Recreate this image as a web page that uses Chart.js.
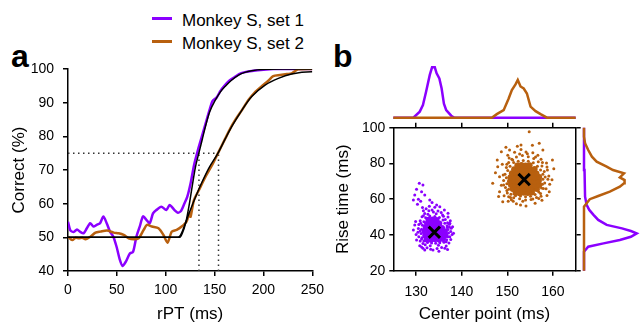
<!DOCTYPE html>
<html>
<head>
<meta charset="utf-8">
<script src="https://cdn.jsdelivr.net/npm/chart.js@4"></script>
<style>
  body { margin: 0; background: #fff; width: 642px; height: 324px; position: relative; overflow: hidden;
         font-family: 'Liberation Sans', Arial, sans-serif; color: #000; }
  .box { position: absolute; }
  .panel { position: absolute; font-weight: bold; font-size: 32px; line-height: 32px; }
  .key-line { position: absolute; left: 152px; width: 20px; height: 3px; }
  .key-text { position: absolute; left: 182px; font-size: 17px; line-height: 17px; white-space: nowrap; }
</style>
</head>
<body>
<div class="panel" style="left:11px; top:40px;">a</div>
<div class="panel" style="left:333px; top:40px;">b</div>
<div class="key-line" style="top:17px; background:#8b00ff;"></div>
<div class="key-text" style="top:12px;">Monkey S, set 1</div>
<div class="key-line" style="top:40px; background:#b8600f;"></div>
<div class="key-text" style="top:35px;">Monkey S, set 2</div>

<div class="box" style="left:0; top:0; width:330px; height:324px;"><canvas id="chartA"></canvas></div>
<div class="box" style="left:330px; top:60px; width:260px; height:70px;"><canvas id="chartTop"></canvas></div>
<div class="box" style="left:570px; top:100px; width:72px; height:224px;"><canvas id="chartRight"></canvas></div>
<div class="box" style="left:330px; top:100px; width:260px; height:224px;"><canvas id="chartB"></canvas></div>

<script>
const PURPLE = "#8b00ff";
const ORANGE = "#b8600f";

// panel a: running percent correct vs rPT
const rptSet1 = [0,2.4,5.8,9.2,12.5,15.9,19.3,22.7,26,29.4,32.8,36.2,39.6,43,46.4,49.7,53.1,55.8,59.2,63.3,66.6,70,73.4,76.8,80.2,83.6,87,90.4,95.5,100.6,104,109,112.4,115.8,119.2,122,125.4,129,133,137,141,145,148,152,156,160,165,170,175,180,190,200,210,250];
const correctSet1 = [54.6,52.1,51.6,52.3,51.6,51.2,52.7,54.2,53.2,53.7,54.2,56.2,54.2,51.7,50.2,47.2,43.3,41.5,42.8,45.2,45.7,50.2,53.2,56.2,55.2,54.2,57.1,58.1,59.1,58.1,59.6,58.1,57.3,57.9,60.1,62,66,71.5,76,80,84,88,90.5,91.5,93.5,95,96.5,97.5,98.5,99,99.5,99.8,100,100];
const rptSet2 = [0,4.4,7.8,11.2,14.6,18,23,28.1,33.2,40,46.8,51.9,57,62.1,67.2,72.3,77.4,80.8,85.9,92.6,97.7,101.8,106.2,111.2,116.3,121.4,124,125.4,128.8,133.9,140.7,147.5,153.5,161,166,171,178,184.6,191,198,205,210,217,224,229,235.5,250];
const correctSet2 = [50.2,49.2,49.9,49.7,49.9,49.4,50.2,51.4,51.7,52,51.4,51.2,50.7,49.7,49.4,49.7,52.2,53.7,53.2,52.7,50.7,48.4,51.7,52.2,53.2,54.7,57.2,56.1,61,64,68,71.5,75,79.4,82.3,84.8,87.8,90.8,93,94.8,96.5,97.9,98.2,98.5,98.7,99.9,100];
const fit1Rpt = [0,114.5,117,120.4,123.7,127,130.5,133.9,137.3,140.7,145,150.9,156,161,167,174.6,181,188,201.7,220,250];
const fit1 = [50,50,51.2,54.2,59.1,65,71,75,79,83,87.3,90.8,93.2,94.9,96.6,98.2,99,99.5,99.9,100,100];
const fit2Rpt = [0,112,115,118.6,123.7,130.5,137.3,144,153.5,161,167.8,178,188,201.7,215.2,228.8,249.1,250];
const fit2 = [50,50,50.6,53,57,62,66.5,70.5,75,79.3,83,87.8,91.8,95.2,97.2,98.5,99.2,99.2];
const thresholdPct = 75;
const thresholdRpt = [134, 154];
const rptTicks = [0, 50, 100, 150, 200, 250];
const correctTicks = [40, 50, 60, 70, 80, 90, 100];

// panel b: fitted center point / rise time per resample
const purpleCore = [
  [132.3,37.5],[133.2,37.3],[134.1,37.6],[135.0,37.4],[135.9,37.8],
  [132.0,39.7],[132.9,39.9],[133.8,39.6],[134.7,39.8],[135.6,39.5],[136.4,39.9],
  [131.9,41.9],[132.8,42.1],[133.7,41.8],[134.6,42.0],[135.5,41.7],[136.3,42.1],
  [132.1,44.1],[133.0,44.3],[133.9,44.0],[134.8,44.2],[135.7,43.9],
  [132.4,46.3],[133.3,46.5],[134.2,46.2],[135.1,46.4],
  [132.7,48.5],[133.6,48.7],[134.5,48.3]
];
const purpleDots = [
  [130.8,34],[131.2,33.2],[132.4,32.8],[133.2,32],[134.6,32.4],[135.6,33],[136.6,33.8],[137.2,35.5],[137.6,37.5],
  [137.9,40.2],[137.6,42],[137.3,44.5],[136.9,46.8],[136.4,48.6],[136,50.5],[135.5,52.5],[134.8,53.4],[133.8,52.8],
  [132.8,53.5],[131.9,52],[131.3,50.2],[130.9,48],[130.6,45.8],[130.5,43.6],[130.4,41.5],[130.6,39],[130.9,36.6],
  [131.5,35.2],[132.9,56],[134.1,55.5],[131.4,55.3],[130.3,57.2],[131,58.8],[133.5,58.2],[136.2,54],[137,50],
  [138.2,41],[129.9,47.5],[130,40.3],[136.9,31.8],[131.9,31.6],[135,30.9],[138,44.6],[137.5,48],
  [130.7,68.9],[131.5,67.9],[130.1,65.5],[131.2,64.2],[129.7,62.3],[131.9,62.3],[129.4,59.5],[130.5,60],[133,59.5],
  [134.5,56.8],[135.2,55.8],[137,52.1],[137.4,46.5],[137.7,43.7],[129.4,42.8],[129.7,45.6],[130.1,37.2],[131.5,32.5],
  [133.7,31.6],[136.3,32.5],[137.4,39],[131.6,50.8],[136.6,36.2],[131.2,37.8],[136.8,44.2],[132.2,54.6],
  [131.3,38.5],[131.1,40.8],[131.2,43.2],[131.4,45.4],[131.7,47.4],[132.1,49.6],[133,50.6],[134.1,50.3],[135.1,49.8],
  [135.9,48.4],[136.3,46.6],[136.8,45.1],[137,43],[137.1,41.1],[137,39],[136.7,37.3],[136.1,35.9],[135.2,35.6],
  [134.3,35.4],[133.4,35.5],[132.5,35.8],[131.7,36.6],[132.6,51.6],[134.4,51.8],[133.5,53.9],[131.6,53.6],[135.8,51.2],
  [130.9,42.2],[131.0,46.6],[137.3,46],[134.9,34.3],[133.1,33.9],[132,34.5]
];
const orangeCore = [
  [151.8,63.5],[152.7,63.3],[153.6,63.6],[154.5,63.4],[155.4,63.7],
  [151.2,65.7],[152.1,65.9],[153.0,65.6],[153.9,65.8],[154.8,65.5],[155.7,65.9],[156.5,65.7],
  [150.8,67.9],[151.7,68.1],[152.6,67.8],[153.5,68.0],[154.4,67.7],[155.3,68.1],[156.2,67.8],[157.0,68.0],
  [150.6,70.1],[151.5,70.3],[152.4,70.0],[153.3,70.2],[154.2,69.9],[155.1,70.3],[156.0,70.0],[156.9,70.2],
  [150.7,72.3],[151.6,72.5],[152.5,72.2],[153.4,72.4],[154.3,72.1],[155.2,72.5],[156.1,72.2],[157.0,72.4],
  [151.0,74.5],[151.9,74.7],[152.8,74.4],[153.7,74.6],[154.6,74.3],[155.5,74.7],[156.4,74.4],
  [151.5,76.7],[152.4,76.9],[153.3,76.6],[154.2,76.8],[155.1,76.5],[156.0,76.9],
  [152.2,78.9],[153.1,79.1],[154.0,78.8],[154.9,79.0]
];
const orangeDots = [
  [149.3,62],[149.6,66.5],[149.2,70.5],[149.5,74],[149.8,77.8],[150.3,80.5],[151,82.4],[152,83.6],[153.3,84.5],
  [154.6,83.8],[155.8,82.7],[156.8,81],[157.6,78.6],[158.1,75.5],[158.3,72.4],[158.2,69],[157.9,66],[157.3,63.2],
  [156.4,61],[155.2,59.8],[154,59.6],[152.7,60.2],[151.4,60.8],[150.3,61.4],[148.7,67.8],[148.3,72.6],[148.9,79.6],
  [150.1,84.6],[151.6,86.2],[153,87.8],[154.1,86.4],[155.6,86],[156.7,84.6],[158.6,80.2],[159.1,73],[159.3,68.4],
  [158.7,62.1],[157.6,59.4],[156.1,57.8],[152,57.5],[150.2,58.8],[147.4,74.8],[147.8,82],[149.7,89],[152.2,89.6],
  [155.5,90.2],[160.2,77],[157.2,70.4],[149.9,64.8],[148.1,61.5],[159.8,70.9],[152.9,56.8],
  [154.8,97.8],[153,90.3],[157,91.3],[148.7,86.6],[159.9,81.9],[146.8,68.9],[149,58.6],[154.1,56.2],[159.2,64.2],
  [157.8,87.5],[150.5,87.5],[158.8,76.3],[147.9,78.2],[148.3,64.2],[150.4,83],[157.4,82.3],[156.9,60.4],[150.9,59.7],
  [150,63.5],[149.9,68.6],[149.8,72],[150.1,76],[150.6,78.5],[151.4,80.6],[152.4,81.3],[153.5,81.6],[154.6,81.2],
  [155.7,80.4],[156.6,78.5],[157.3,76.4],[157.8,74],[157.8,71.2],[157.7,68.4],[157.5,66.2],[156.9,64],[156.1,62.6],
  [155.1,61.6],[154,61.4],[152.9,61.8],[151.8,62],[150.8,62.8],[150.3,65.6],[149.2,68],[149.1,73.5],[149.9,79.5],
  [151.2,82],[152.7,85.3],[154.4,85.4],[156.2,83.6],[157.7,80.6],[158.7,78],[158.9,71.2],[158.5,65.8],[157.4,61.7],
  [155.6,60.1],[153.4,58.8],[151.3,58.9],[150.7,61]
];
const clusterMeans = [[134, 41.5], [153.7, 71]];
const centerTicks = [130, 140, 150, 160];
const riseTicks = [20, 40, 60, 80, 100];

// marginal histograms (relative density)
const centerP = [125,129.4,130.8,131.5,132.2,133.0,133.5,134.1,134.5,135.1,135.6,136.1,136.6,137.7,138.4,165];
const centerDensP = [0,0,0.12,0.25,0.52,0.85,1.0,1.0,0.88,0.78,0.58,0.28,0.15,0.04,0,0];
const centerO = [125,146.6,147.7,149.2,150.3,151.0,151.8,152.3,152.9,153.6,154.3,155.1,156.2,157.3,158.7,165];
const centerDensO = [0,0,0.07,0.15,0.38,0.55,0.66,0.75,0.62,0.58,0.48,0.22,0.13,0.07,0,0];
const riseP = [20,30.6,33.4,35.3,37.2,39,40.9,42.2,43.7,45.6,48.4,51.2,54,56.8,61.4,76.3,93,100];
const riseDensP = [0,0,0.08,0.37,0.68,0.89,1.0,0.89,0.72,0.43,0.27,0.18,0.1,0.05,0.02,0.01,0,0];
const riseO = [20,55.8,57.7,60,61.8,64.2,67,68.9,70.7,72.2,74.5,76.3,78.2,81,83.8,87.5,91.3,95,100];
const riseDensO = [0,0,0.05,0.11,0.27,0.49,0.68,0.76,0.77,0.68,0.76,0.55,0.43,0.24,0.15,0.08,0.02,0,0];

Chart.defaults.font.family = "'Liberation Sans', Arial, sans-serif";
Chart.defaults.color = "#000";
Chart.defaults.animation = false;

const toXY = (xs, ys) => xs.map((x, i) => ({ x: x, y: ys[i] }));
const pairs = pts => pts.map(p => ({ x: p[0], y: p[1] }));
const fixTicks = vals => scale => { scale.ticks = vals.map(v => ({ value: v })); };

function axis(opts) {
  // common black axis with outward tick marks
  return Object.assign({
    type: "linear",
    grid: { drawOnChartArea: false, drawTicks: true, tickLength: 5, color: "#000", lineWidth: 1.5 },
    border: { color: "#000", width: 1.5 },
    ticks: { font: { size: 14 }, color: "#000" }
  }, opts);
}

const noPlugins = { legend: { display: false }, tooltip: { enabled: false } };

new Chart(document.getElementById("chartA"), {
  type: "line",
  data: {
    datasets: [
      { data: toXY(fit1Rpt, fit1), borderColor: "#000", borderWidth: 1.5, cubicInterpolationMode: "monotone", order: 0 },
      { data: toXY(fit2Rpt, fit2), borderColor: "#000", borderWidth: 1.5, cubicInterpolationMode: "monotone", order: 0 },
      { data: toXY(rptSet2, correctSet2), borderColor: ORANGE, borderWidth: 2.5, tension: 0.25, order: 1 },
      { data: toXY(rptSet1, correctSet1), borderColor: PURPLE, borderWidth: 2.5, tension: 0.25, order: 2 },
      { data: [{ x: 0, y: thresholdPct }, { x: thresholdRpt[1], y: thresholdPct }], borderColor: "#333", borderWidth: 1.5, borderDash: [1.5, 3.5], order: 3 },
      { data: [{ x: thresholdRpt[0], y: 40 }, { x: thresholdRpt[0], y: thresholdPct }], borderColor: "#333", borderWidth: 1.5, borderDash: [1.5, 3.5], order: 3 },
      { data: [{ x: thresholdRpt[1], y: 40 }, { x: thresholdRpt[1], y: thresholdPct }], borderColor: "#333", borderWidth: 1.5, borderDash: [1.5, 3.5], order: 3 }
    ]
  },
  options: {
    responsive: true, maintainAspectRatio: false,
    layout: { padding: { top: 69, right: 16 } },
    plugins: noPlugins,
    elements: { point: { radius: 0 } },
    scales: {
      x: axis({
        min: 0, max: 250, afterBuildTicks: fixTicks(rptTicks),
        ticks: { font: { size: 14 }, color: "#000", padding: 6, maxRotation: 0 },
        title: { display: true, text: "rPT (ms)", font: { size: 17, lineHeight: 1 }, padding: { top: 0, bottom: 1 } },
        afterFit: s => { s.height = 53; }
      }),
      y: axis({
        min: 40, max: 100, afterBuildTicks: fixTicks(correctTicks),
        ticks: { font: { size: 14 }, color: "#000", padding: 9 },
        title: { display: true, text: "Correct (%)", font: { size: 17, lineHeight: 1 }, padding: { top: 11, bottom: 0 } },
        afterFit: s => { s.width = 68; }
      })
    }
  }
});

new Chart(document.getElementById("chartB"), {
  type: "scatter",
  data: {
    datasets: [
      { data: pairs(clusterMeans), pointStyle: "crossRot", pointRadius: 8, borderColor: "#000", borderWidth: 3, order: 0 },
      { data: pairs(purpleCore), backgroundColor: PURPLE, pointRadius: 3, borderWidth: 0, order: 1 },
      { data: pairs(purpleDots), backgroundColor: PURPLE, pointRadius: 1.5, borderWidth: 0, order: 2 },
      { data: pairs(orangeCore), backgroundColor: ORANGE, pointRadius: 3, borderWidth: 0, order: 1 },
      { data: pairs(orangeDots), backgroundColor: ORANGE, pointRadius: 1.5, borderWidth: 0, order: 2 }
    ]
  },
  options: {
    responsive: true, maintainAspectRatio: false,
    layout: { padding: { top: 22.7, right: 9.3 } },
    plugins: noPlugins,
    scales: {
      x: axis({
        position: "bottom", min: 125, max: 165, afterBuildTicks: fixTicks(centerTicks),
        ticks: { font: { size: 14 }, color: "#000", padding: 8, maxRotation: 0 },
        title: { display: true, text: "Center point (ms)", font: { size: 17, lineHeight: 1 }, padding: { top: 0, bottom: 1 } },
        afterFit: s => { s.height = 53.3; }
      }),
      xTop: axis({
        axis: "x", position: "top", min: 125, max: 165, afterBuildTicks: fixTicks(centerTicks),
        ticks: { display: false },
        afterFit: s => { s.height = 5; }
      }),
      y: axis({
        position: "left", min: 20, max: 100, afterBuildTicks: fixTicks(riseTicks),
        grid: { drawOnChartArea: false, drawTicks: true, tickLength: 4, color: "#000", lineWidth: 1.5 },
        ticks: { font: { size: 14 }, color: "#000", padding: 4 },
        title: { display: true, text: "Rise time (ms)", font: { size: 17, lineHeight: 1 }, padding: { top: 4.5, bottom: 0 } },
        afterFit: s => { s.width = 63.3; }
      }),
      yRight: axis({
        axis: "y", position: "right", min: 20, max: 100, afterBuildTicks: fixTicks(riseTicks),
        ticks: { display: false },
        afterFit: s => { s.width = 5; }
      })
    }
  }
});

new Chart(document.getElementById("chartTop"), {
  type: "line",
  data: {
    datasets: [
      { data: toXY(centerO, centerDensO), borderColor: ORANGE, borderWidth: 2.5, clip: false, order: 0 },
      { data: toXY(centerP, centerDensP), borderColor: PURPLE, borderWidth: 2.5, clip: false, order: 1 }
    ]
  },
  options: {
    responsive: true, maintainAspectRatio: false,
    layout: { padding: { left: 63.3, right: 14.3, top: 7.3, bottom: 12.3 } },
    plugins: noPlugins,
    elements: { point: { radius: 0 } },
    scales: {
      x: { type: "linear", min: 125, max: 165, display: false },
      y: { type: "linear", min: 0, max: 1, display: false }
    }
  }
});

new Chart(document.getElementById("chartRight"), {
  type: "scatter",
  data: {
    datasets: [
      { data: toXY(riseDensO, riseO), showLine: true, borderColor: ORANGE, borderWidth: 2.5, clip: false, order: 0 },
      { data: toXY(riseDensP, riseP), showLine: true, borderColor: PURPLE, borderWidth: 2.5, clip: false, order: 1 }
    ]
  },
  options: {
    responsive: true, maintainAspectRatio: false,
    layout: { padding: { left: 14, right: 5.3, top: 27.7, bottom: 53.3 } },
    plugins: noPlugins,
    elements: { point: { radius: 0 } },
    scales: {
      x: { type: "linear", min: 0, max: 1, display: false },
      y: { type: "linear", min: 20, max: 100, display: false }
    }
  }
});
</script>
</body>
</html>
